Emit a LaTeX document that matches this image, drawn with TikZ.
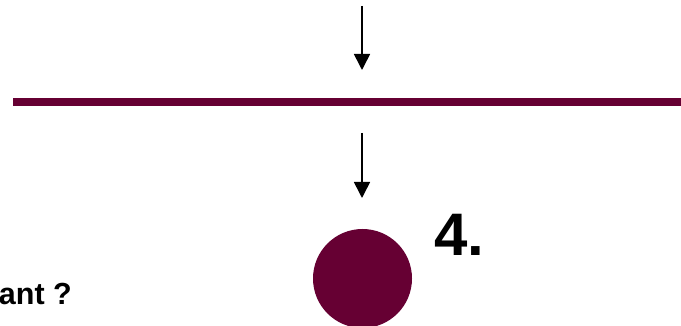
\documentclass[tikz,border=0pt]{standalone}
\usepackage{fontspec}
\setmainfont{Liberation Sans}
\usetikzlibrary{arrows.meta}
\definecolor{maroon}{HTML}{660033}
\tikzset{
  flowarrow/.style={draw=black, line width=1.6pt, -{Triangle[width=16pt,length=16pt]}},
  barline/.style={draw=maroon, line width=8pt},
  dot/.style={circle, fill=maroon, draw=none, minimum size=99pt, inner sep=0pt},
  bigtext/.style={inner sep=0pt, font=\bfseries\fontsize{60}{60}\selectfont},
  cuttext/.style={inner sep=0pt, font=\bfseries\fontsize{30.5}{30.5}\selectfont}
}
\begin{document}
\begin{tikzpicture}[x=1pt,y=1pt]
\useasboundingbox (0,0) rectangle (681,-326);
\coordinate (a1s) at (362,-6);
\coordinate (a1e) at (362,-70);
\coordinate (ls) at (13,-102.5);
\coordinate (le) at (681,-102.5);
\coordinate (a2s) at (362,-133);
\coordinate (a2e) at (362,-198);
\node[dot] (circ) at (362.5,-278.5) {};
\node[bigtext, anchor=base west] (four) at (434,-255) {4.};
\node[cuttext, anchor=base east] (q) at (72,-305) {ant ?};
\draw[flowarrow] (a1s) -- (a1e);
\draw[barline] (ls) -- (le);
\draw[flowarrow] (a2s) -- (a2e);
\end{tikzpicture}
\end{document}
